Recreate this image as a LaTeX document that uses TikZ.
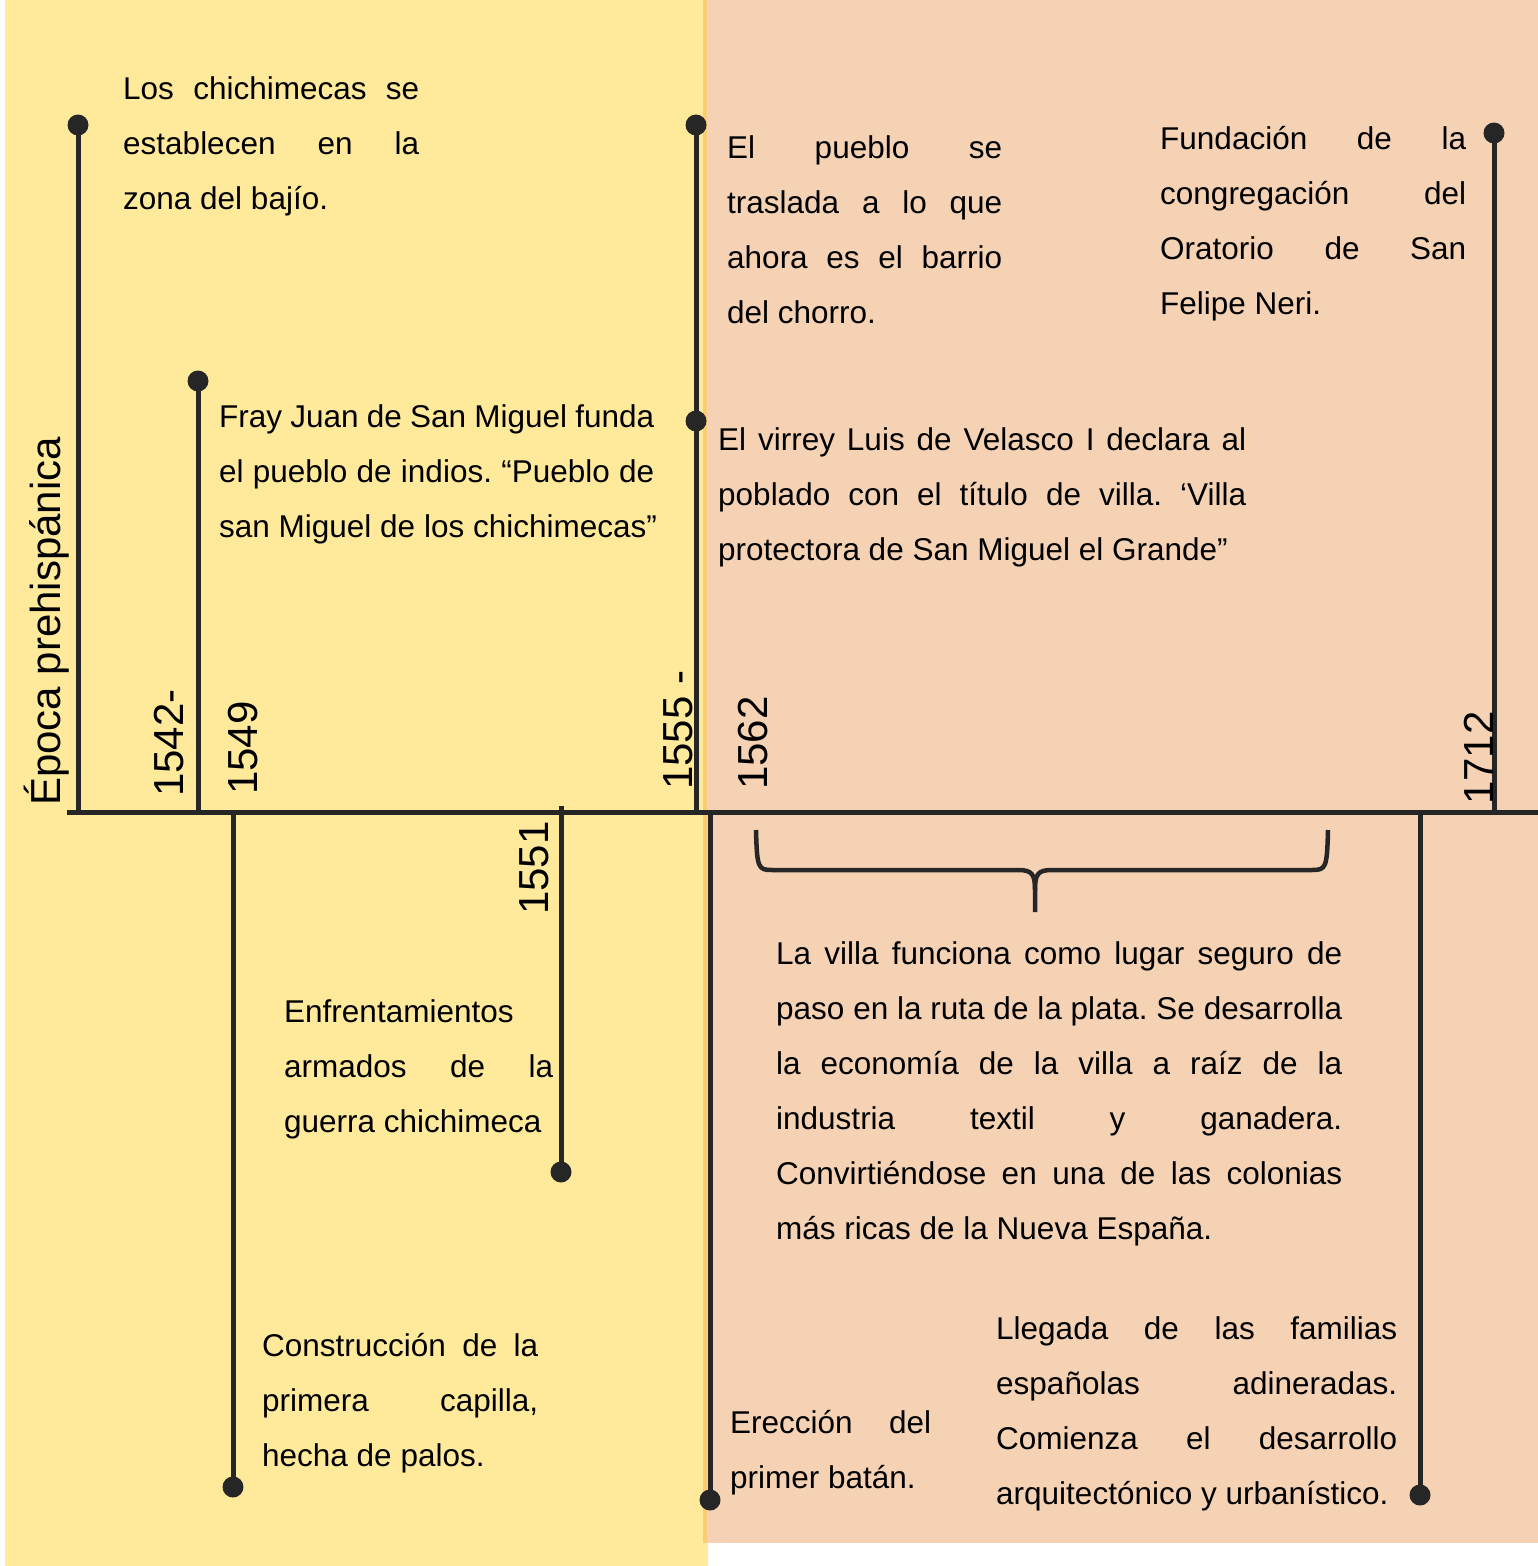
\documentclass[tikz,border=0pt]{standalone}
\usepackage{fontspec}
\setmainfont{Liberation Sans}
\usetikzlibrary{positioning}
\definecolor{yellowbg}{HTML}{FFEA9C}
\definecolor{peachbg}{HTML}{F5D2B4}
\definecolor{edgeline}{HTML}{F8CD73}
\definecolor{ink}{HTML}{262626}
\newcommand{\jl}[2]{\makebox[#1pt][s]{#2}}
\frenchspacing

\begin{document}
\begin{tikzpicture}[x=1pt,y=-1pt]
\tikzstyle{evdot}=[circle,fill=ink,inner sep=0pt,minimum size=21pt]
\tikzstyle{tline}=[draw=ink,line width=5pt]
\tikzstyle{txt}=[anchor=base west,inner sep=0pt,align=left,font=\fontsize{31.5}{55}\selectfont]
\tikzstyle{yr}=[anchor=base west,inner sep=0pt,rotate=90,font=\fontsize{42}{50}\selectfont]

\useasboundingbox (0,0) rectangle (1538,1566);
% fondos
\fill[yellowbg] (5,0) rectangle (708,1566);
\fill[peachbg] (703,0) rectangle (1538,1543);
\fill[edgeline] (703,0) rectangle (707,1543);

% eje
\coordinate (axL) at (67,812);
\coordinate (axR) at (1538,812);
\draw[tline] (axL) -- (axR);

% hitos arriba
\node[evdot] (e1) at (78,125) {};
\coordinate (a1) at (78,812);
\node[evdot] (e2) at (198,381) {};
\coordinate (a2) at (198,810);
\node[evdot] (e5) at (696,125) {};
\node[evdot] (e5b) at (696,421) {};
\coordinate (a5) at (696,812);
\node[evdot] (e8) at (1494,133) {};
\coordinate (a8) at (1494,812);
% hitos abajo
\node[evdot] (e3) at (233,1487) {};
\coordinate (a3) at (233,812);
\node[evdot] (e4) at (561,1172) {};
\coordinate (a4) at (561,806);
\node[evdot] (e6) at (710,1500) {};
\coordinate (a6) at (710,812);
\node[evdot] (e7) at (1420,1495) {};
\coordinate (a7) at (1420,812);

\draw[tline] (e1.center) -- (a1);
\draw[tline] (e2.center) -- (a2);
\draw[tline] (e5.center) -- (a5);
\draw[tline] (e8.center) -- (a8);
\draw[tline] (e3.center) -- (a3);
\draw[tline] (e4.center) -- (a4);
\draw[tline] (e6.center) -- (a6);
\draw[tline] (e7.center) -- (a7);

% llave
\draw[tline,line width=4.5pt] (756,830) .. controls (757,868) and (758,870) .. (772,870) -- (1018,870)
  .. controls (1032,870) and (1035,874) .. (1035,890) -- (1035,912);
\draw[tline,line width=4.5pt] (1328,830) .. controls (1327,868) and (1326,870) .. (1312,870) -- (1052,870)
  .. controls (1038,870) and (1035,874) .. (1035,890);

% fechas
\node[yr] (y0) at (60,806) {Época prehispánica};
\node[yr] (y1) at (183,797) {1542-};
\node[yr] (y2) at (257,795) {1549};
\node[yr] (y3) at (548,915) {1551};
\node[yr] (y4) at (692,790) {1555 -};
\node[yr] (y5) at (767,790) {1562};
\node[yr] (y6) at (1493,805) {1712};

% textos (anclados en la ultima linea)
\node[txt] (t1) at (123,209) {\jl{296}{Los chichimecas se}\\ \jl{296}{establecen en la}\\ zona del bajío.};
\node[txt] (t2) at (219,537) {\jl{435}{Fray Juan de San Miguel funda}\\ \jl{435}{el pueblo de indios. “Pueblo de}\\ san Miguel de los chichimecas”};
\node[txt] (t3) at (727,323) {\jl{275}{El pueblo se}\\ \jl{275}{traslada a lo que}\\ \jl{275}{ahora es el barrio}\\ del chorro.};
\node[txt] (t4) at (1160,314) {\jl{306}{Fundación de la}\\ \jl{306}{congregación del}\\ \jl{306}{Oratorio de San}\\ Felipe Neri.};
\node[txt] (t5) at (718,560) {\jl{528}{El virrey Luis de Velasco I declara al}\\ \jl{528}{poblado con el título de villa. ‘Villa}\\ protectora de San Miguel el Grande”};
\node[txt] (t6) at (284,1132) {Enfrentamientos\\ \jl{269}{armados de la}\\ guerra chichimeca};
\node[txt] (t7) at (262,1466) {\jl{276}{Construcción de la}\\ \jl{276}{primera capilla,}\\ hecha de palos.};
\node[txt] (t8) at (776,1239) {\jl{566}{La villa funciona como lugar seguro de}\\ \jl{566}{paso en la ruta de la plata. Se desarrolla}\\ \jl{566}{la economía de la villa a raíz de la}\\ \jl{566}{industria textil y ganadera.}\\ \jl{566}{Convirtiéndose en una de las colonias}\\ más ricas de la Nueva España.};
\node[txt] (t9) at (730,1488) {\jl{201}{Erección del}\\ primer batán.};
\node[txt] (t10) at (996,1504) {\jl{401}{Llegada de las familias}\\ \jl{401}{españolas adineradas.}\\ \jl{401}{Comienza el desarrollo}\\ arquitectónico y urbanístico.};
\end{tikzpicture}
\end{document}
